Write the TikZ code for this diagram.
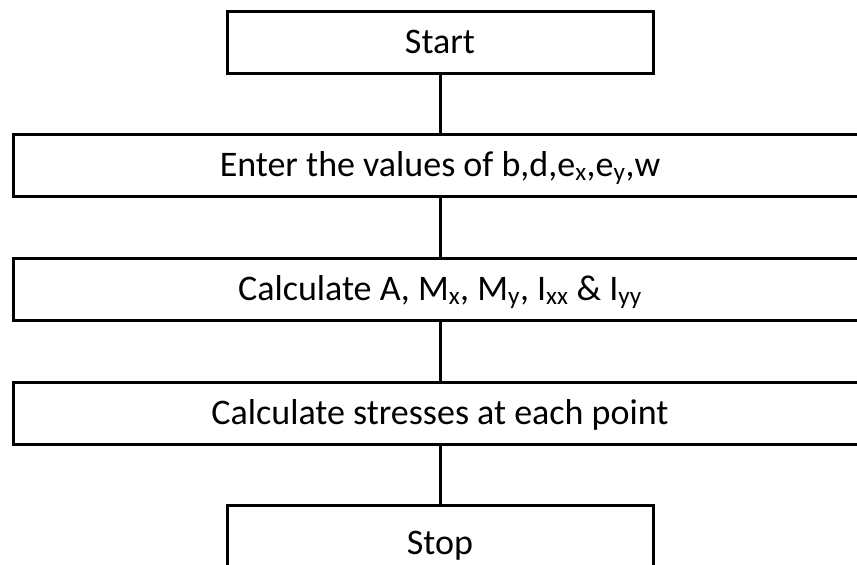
\documentclass[tikz,border=0pt]{standalone}
\usepackage{fontspec}
\setmainfont{Carlito}
\begin{document}
\begin{tikzpicture}
	[x=1pt,y=-1pt,
	 stepbox/.style={rectangle,draw,line width=3pt,minimum height=62pt,inner sep=0pt,
	   text height=23pt,text depth=0pt,font=\fontsize{36}{42}\selectfont},
	 small/.style={stepbox,minimum width=426pt},
	 wide/.style={stepbox,minimum width=854pt}]
    \useasboundingbox (0,0) rectangle (857,565);
    \node[small] (start) at (440,42) {Start};
    \node[wide] (enter) at (440,165) {Enter the values of b,d,e\textsubscript{x},e\textsubscript{y},w};
    \node[wide] (calc) at (440,289) {Calculate A, M\textsubscript{x}, M\textsubscript{y}, I\textsubscript{xx} \& I\textsubscript{yy}};
    \node[wide] (stress) at (440,413) {Calculate stresses at each point};
    \node[small,minimum height=76pt] (stop) at (440,543) {Stop};
    \draw [line width=3pt] (start) -- (enter);
    \draw [line width=3pt] (enter) -- (calc);
    \draw [line width=3pt] (calc) -- (stress);
    \draw [line width=3pt] (stress) -- (stop);
\end{tikzpicture}
\end{document}
